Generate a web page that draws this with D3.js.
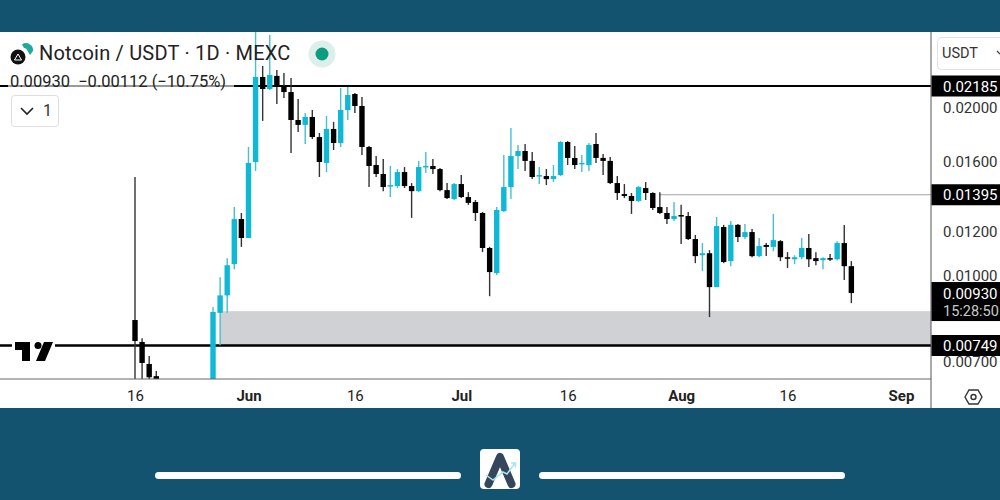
<!DOCTYPE html>
<html>
<head>
<meta charset="utf-8">
<script src="https://cdn.jsdelivr.net/npm/d3@7"></script>
<style>
  html, body { margin: 0; padding: 0; background: #14536f; }
  svg { display: block; font-family: Roboto, sans-serif; }
</style>
</head>
<body>
<svg id="chart" width="1000" height="500"></svg>
<script>
// candles (log price axis)
var dates = ["2024-05-16","2024-05-17","2024-05-18","2024-05-19",
  "2024-05-27","2024-05-28","2024-05-29","2024-05-30","2024-05-31",
  "2024-06-01","2024-06-02","2024-06-03","2024-06-04","2024-06-05","2024-06-06","2024-06-07","2024-06-08","2024-06-09","2024-06-10",
  "2024-06-11","2024-06-12","2024-06-13","2024-06-14","2024-06-15","2024-06-16","2024-06-17","2024-06-18","2024-06-19","2024-06-20",
  "2024-06-21","2024-06-22","2024-06-23","2024-06-24","2024-06-25","2024-06-26","2024-06-27","2024-06-28","2024-06-29","2024-06-30",
  "2024-07-01","2024-07-02","2024-07-03","2024-07-04","2024-07-05","2024-07-06","2024-07-07","2024-07-08","2024-07-09","2024-07-10",
  "2024-07-11","2024-07-12","2024-07-13","2024-07-14","2024-07-15","2024-07-16","2024-07-17","2024-07-18","2024-07-19","2024-07-20",
  "2024-07-21","2024-07-22","2024-07-23","2024-07-24","2024-07-25","2024-07-26","2024-07-27","2024-07-28","2024-07-29","2024-07-30","2024-07-31",
  "2024-08-01","2024-08-02","2024-08-03","2024-08-04","2024-08-05","2024-08-06","2024-08-07","2024-08-08","2024-08-09","2024-08-10",
  "2024-08-11","2024-08-12","2024-08-13","2024-08-14","2024-08-15","2024-08-16","2024-08-17","2024-08-18","2024-08-19","2024-08-20",
  "2024-08-21","2024-08-22","2024-08-23","2024-08-24","2024-08-25"];

var opens = [.00832,.00760,.00694,.00660,
  .00620,.00857,.00921,.01048,.01262,
  .01167,.01597,.02268,.02158,.02278,.02185,.02131,.01899,.01861,.01923,
  .01770,.01591,.01830,.01727,.01979,.02114,.02012,.01699,.01577,.01520,
  .01446,.01446,.01532,.01446,.01416,.01564,.01571,.01551,.01422,.01371,
  .01458,.01382,.01354,.01294,.01120,.01010,.01304,.01440,.01637,.01671,
  .01604,.01507,.01507,.01488,.01513,.01734,.01624,.01584,.01577,.01720,
  .01624,.01604,.01464,.01399,.01388,.01360,.01434,.01405,.01326,.01294,.01262,
  .01283,.01278,.01162,.01087,.01096,.00953,.01221,.01061,.01232,.01172,
  .01196,.01083,.01134,.01125,.01152,.01078,.01069,.01078,.01120,.01074,
  .01065,.01074,.01069,.01143,.01039];

var highs = [.01501,.00772,.00717,.00674,
  .00878,.00993,.01074,.01326,.01294,
  .01699,.02760,.02373,.02697,.02334,.02306,.02259,.02071,.01955,.01979,
  .01800,.01931,.01884,.02167,.02176,.02123,.02088,.01706,.01637,.01617,
  .01571,.01551,.01564,.01464,.01604,.01664,.01617,.01558,.01464,.01464,
  .01513,.01410,.01365,.01299,.01125,.01326,.01644,.01838,.01713,.01720,
  .01664,.01564,.01551,.01577,.01741,.01741,.01706,.01644,.01727,.01800,
  .01651,.01630,.01507,.01458,.01405,.01446,.01470,.01410,.01410,.01326,.01354,
  .01338,.01299,.01182,.01143,.01110,.01273,.01232,.01252,.01237,.01237,
  .01211,.01167,.01143,.01289,.01157,.01101,.01087,.01167,.01186,.01101,
  .01078,.01092,.01152,.01232,.01061];

var lows = [.00620,.00630,.00640,.00630,
  .00610,.00750,.00857,.01026,.01125,
  .01167,.01539,.01892,.02149,.02029,.02080,.01657,.01808,.01720,.01755,
  .01501,.01532,.01678,.01699,.01899,.01955,.01644,.01440,.01501,.01416,
  .01382,.01434,.01434,.01268,.01410,.01526,.01520,.01416,.01371,.01365,
  .01376,.01338,.01252,.01101,.00918,.01002,.01299,.01371,.01551,.01539,
  .01488,.01458,.01452,.01470,.01507,.01577,.01551,.01532,.01539,.01591,
  .01513,.01458,.01365,.01376,.01289,.01354,.01365,.01310,.01289,.01237,.01252,
  .01139,.01157,.01052,.01018,.00842,.00953,.01052,.01039,.01148,.01162,
  .01078,.01078,.01083,.01105,.01061,.01031,.01048,.01069,.01035,.01043,
  .01026,.01061,.01065,.00981,.00892];

var closes = [.00763,.00697,.00657,.00640,
  .00860,.00921,.01043,.01262,.01167,
  .01591,.02268,.02158,.02287,.02176,.02131,.01899,.01861,.01923,.01770,
  .01597,.01830,.01727,.01979,.02105,.02012,.01699,.01571,.01520,.01440,
  .01452,.01532,.01446,.01416,.01564,.01571,.01551,.01422,.01376,.01458,
  .01382,.01349,.01294,.01120,.01014,.01310,.01440,.01637,.01671,.01604,
  .01501,.01513,.01488,.01507,.01734,.01624,.01577,.01591,.01713,.01624,
  .01604,.01464,.01405,.01388,.01360,.01440,.01405,.01321,.01294,.01262,.01278,
  .01278,.01162,.01083,.01096,.00953,.01226,.01057,.01232,.01172,.01196,
  .01083,.01129,.01125,.01157,.01078,.01074,.01078,.01120,.01069,.01061,
  .01074,.01069,.01143,.01039,.00930];

var xTickDates = ["2024-05-16","2024-06-01","2024-06-16","2024-07-01","2024-07-16","2024-08-01","2024-08-16","2024-09-01"];
var xTickLabels = ["16","Jun","16","Jul","16","Aug","16","Sep"];
var yTicks = [0.02, 0.016, 0.012, 0.01, 0.007];

// black price tags on the right axis
var tagPrices = [0.02185, 0.01395, 0.00749];
var lastPrice = 0.0093;
var countdown = "15:28:50";
var zoneTop = 0.00863;
var zoneBottom = 0.00749;
var zoneStart = "2024-05-28";
var thinLineStart = "2024-07-29";

var parseDay = d3.utcParse("%Y-%m-%d");

var teal = "#0fb9d6";
var plotRight = 931;
var plotTop = 32;
var plotBottom = 379;
var panelBottom = 408;

var x = d3.scaleUtc()
  .domain([parseDay("2024-05-16"), parseDay("2024-09-01")])
  .range([135, 901]);

var y = d3.scaleLog()
  .domain([0.02185, 0.00749])
  .range([86, 345.5]);

var svg = d3.select("#chart");

// white chart panel
svg.append("rect")
  .attr("x", 0).attr("y", plotTop)
  .attr("width", 1000).attr("height", panelBottom - plotTop)
  .attr("fill", "#fff");

svg.append("clipPath").attr("id", "plot")
  .append("rect")
  .attr("x", 0).attr("y", plotTop)
  .attr("width", plotRight).attr("height", plotBottom - plotTop);

var plot = svg.append("g").attr("clip-path", "url(#plot)");

// grey zone between the two levels
plot.append("rect")
  .attr("x", x(parseDay(zoneStart)))
  .attr("y", y(zoneTop))
  .attr("width", plotRight - x(parseDay(zoneStart)))
  .attr("height", y(zoneBottom) - y(zoneTop))
  .attr("fill", "#d0d1d5");

// horizontal levels, all under the candles
plot.append("line")
  .attr("x1", 0).attr("x2", plotRight)
  .attr("y1", y(tagPrices[0])).attr("y2", y(tagPrices[0]))
  .attr("stroke", "#000").attr("stroke-width", 2);

plot.append("line")
  .attr("x1", x(parseDay(thinLineStart))).attr("x2", plotRight)
  .attr("y1", y(tagPrices[1])).attr("y2", y(tagPrices[1]))
  .attr("stroke", "#a3a3a3").attr("stroke-width", 1);

plot.append("line")
  .attr("x1", 0).attr("x2", plotRight)
  .attr("y1", y(tagPrices[2])).attr("y2", y(tagPrices[2]))
  .attr("stroke", "#000").attr("stroke-width", 2.4);

// candles
var candles = plot.selectAll("g.candle")
  .data(dates)
  .enter()
  .append("g")
  .attr("class", "candle");

function candleColor(i) {
  return closes[i] >= opens[i] ? teal : "#000";
}

candles.append("line")
  .attr("x1", d => x(parseDay(d)))
  .attr("x2", d => x(parseDay(d)))
  .attr("y1", (d, i) => y(highs[i]))
  .attr("y2", (d, i) => y(lows[i]))
  .attr("stroke", (d, i) => closes[i] >= opens[i] ? "#45bfd2" : "#333")
  .attr("stroke-width", 1.4);

candles.append("rect")
  .attr("x", d => x(parseDay(d)) - 2.7)
  .attr("width", 5.4)
  .attr("y", (d, i) => y(Math.max(opens[i], closes[i])))
  .attr("height", (d, i) => Math.max(1.5, Math.abs(y(opens[i]) - y(closes[i]))))
  .attr("fill", (d, i) => candleColor(i));

// axes frame
svg.append("line")
  .attr("x1", 0).attr("x2", plotRight)
  .attr("y1", plotBottom).attr("y2", plotBottom)
  .attr("stroke", "#666").attr("stroke-width", 1);

svg.append("line")
  .attr("x1", plotRight).attr("x2", plotRight)
  .attr("y1", plotTop).attr("y2", panelBottom)
  .attr("stroke", "#555").attr("stroke-width", 1);

// time axis
var xAxis = d3.axisBottom(x)
  .tickValues(xTickDates.map(parseDay))
  .tickSize(0)
  .tickPadding(11)
  .tickFormat((d, i) => xTickLabels[i]);

var xAxisGroup = svg.append("g")
  .attr("transform", `translate(0, ${plotBottom})`)
  .call(xAxis);

xAxisGroup.select(".domain").remove();
xAxisGroup.selectAll("text")
  .style("font-family", "Roboto, sans-serif")
  .style("font-size", "15px")
  .style("font-weight", (d, i) => xTickLabels[i] === "16" ? 400 : 700)
  .attr("fill", "#222");

// price axis
var yAxis = d3.axisRight(y)
  .tickValues(yTicks)
  .tickSize(0)
  .tickPadding(12)
  .tickFormat(d3.format(".5f"));

var yAxisGroup = svg.append("g")
  .attr("transform", `translate(${plotRight}, 0)`)
  .call(yAxis);

yAxisGroup.select(".domain").remove();
yAxisGroup.selectAll("text")
  .style("font-family", "Roboto, sans-serif")
  .style("font-size", "15px")
  .attr("fill", "#333");

// price tags
var fmt = d3.format(".5f");

tagPrices.forEach(function(p) {
  svg.append("rect")
    .attr("x", plotRight + 0.5).attr("y", y(p) - 10.5)
    .attr("width", 1000 - plotRight).attr("height", 21)
    .attr("fill", "#000");
  svg.append("text")
    .attr("x", 943).attr("y", y(p) + 5.5)
    .attr("fill", "#fff")
    .style("font-size", "15px")
    .text(fmt(p));
});

svg.append("rect")
  .attr("x", plotRight + 0.5).attr("y", y(lastPrice) - 11)
  .attr("width", 1000 - plotRight).attr("height", 39)
  .attr("fill", "#000");

svg.append("text")
  .attr("x", 943).attr("y", y(lastPrice) + 5.5)
  .attr("fill", "#fff")
  .style("font-size", "15px")
  .text(fmt(lastPrice));

svg.append("text")
  .attr("x", 943).attr("y", y(lastPrice) + 23)
  .attr("fill", "#c9c9c9")
  .style("font-size", "14.5px")
  .text(countdown);

// legend: header, values line, collapse button
svg.append("rect")
  .attr("x", 8).attr("y", 72)
  .attr("width", 226).attr("height", 20)
  .attr("fill", "#fff").attr("opacity", 0.6);

svg.append("text")
  .attr("x", 39).attr("y", 60)
  .attr("fill", "#222")
  .style("font-size", "20px")
  .style("letter-spacing", "0.2px")
  .text("Notcoin / USDT · 1D · MEXC");

svg.append("text")
  .attr("x", 10).attr("y", 87)
  .attr("fill", "#222")
  .style("font-size", "16.5px")
  .style("white-space", "pre")
  .text("0.00930  −0.00112 (−10.75%)");

svg.append("path")
  .attr("d", "M22 44.5 A7 7 0 0 1 33 51 L30 55 L27 50 A3 3 0 0 0 24 48 Z")
  .attr("fill", "#1fa99a");
svg.append("circle").attr("cx", 18).attr("cy", 57).attr("r", 7.5).attr("fill", "#111");
svg.append("path")
  .attr("d", "M14.5 60 L18 54 L21.5 60 Z")
  .attr("fill", "none").attr("stroke", "#fff").attr("stroke-width", 1);

svg.append("circle").attr("cx", 322).attr("cy", 54).attr("r", 13.5).attr("fill", "#dcefeb");
svg.append("circle").attr("cx", 322).attr("cy", 54).attr("r", 6.5).attr("fill", "#0d9c80");

svg.append("rect")
  .attr("x", 11.5).attr("y", 95.5)
  .attr("width", 47).attr("height", 31).attr("rx", 3)
  .attr("fill", "#fff").attr("stroke", "#ddd");
svg.append("path")
  .attr("d", "M21 108 L27 114 L33 108")
  .attr("fill", "none").attr("stroke", "#222").attr("stroke-width", 1.6);
svg.append("text")
  .attr("x", 43).attr("y", 116)
  .attr("fill", "#333")
  .style("font-size", "16px")
  .text("1");

// currency button
svg.append("rect")
  .attr("x", 937.5).attr("y", 37.5)
  .attr("width", 70).attr("height", 32).attr("rx", 4)
  .attr("fill", "#fff").attr("stroke", "#e2e2e2");
svg.append("text")
  .attr("x", 942).attr("y", 58)
  .attr("fill", "#333")
  .style("font-size", "14.5px")
  .text("USDT");
svg.append("path")
  .attr("d", "M997 51 L1000 54 L1003 51")
  .attr("fill", "none").attr("stroke", "#333").attr("stroke-width", 1.2);

// tradingview mark on the lower level
svg.append("rect")
  .attr("x", 12).attr("y", 339)
  .attr("width", 43).attr("height", 24)
  .attr("fill", "#fff");
svg.append("path")
  .attr("d", "M15 342 H30 V361 H22 V350 H15 Z M44 342 H53 L45 361 H36 Z")
  .attr("fill", "#000");
svg.append("circle").attr("cx", 38).attr("cy", 345.5).attr("r", 3.5).attr("fill", "#000");

// settings hexagon
svg.append("path")
  .attr("d", "M965 397 L969 390 H978 L982 397 L978 404 H969 Z")
  .attr("fill", "none").attr("stroke", "#333").attr("stroke-width", 1.4);
svg.append("circle")
  .attr("cx", 973.5).attr("cy", 397).attr("r", 2.5)
  .attr("fill", "none").attr("stroke", "#333").attr("stroke-width", 1.4);

// footer bars and logo
svg.append("rect")
  .attr("x", 155).attr("y", 472).attr("width", 306).attr("height", 7).attr("rx", 3.5)
  .attr("fill", "#fff");
svg.append("rect")
  .attr("x", 539).attr("y", 472).attr("width", 306).attr("height", 7).attr("rx", 3.5)
  .attr("fill", "#fff");
svg.append("rect")
  .attr("x", 480).attr("y", 449).attr("width", 40).attr("height", 40).attr("rx", 4)
  .attr("fill", "#fff");
svg.append("path")
  .attr("d", "M488.5 484 L500 457 L511.5 484")
  .attr("fill", "none").attr("stroke", "#34465c").attr("stroke-width", 8)
  .attr("stroke-linecap", "round").attr("stroke-linejoin", "round");
svg.append("path")
  .attr("d", "M486 475 L493 480 L503 472 L507 474 L515 463 M511 463 H515.5 V467.5")
  .attr("fill", "none").attr("stroke", "#a8e3f0").attr("stroke-width", 1.5);
</script>
</body>
</html>
